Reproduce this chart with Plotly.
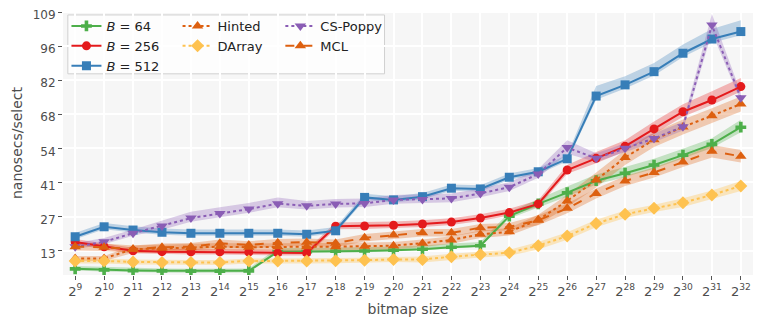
import plotly.graph_objects as go

# bitmap sizes as powers of two
exponents = list(range(9, 33))
x_labels = ["2<sup>%d</sup>" % e for e in exponents]

# y ticks (axis labels are rounded values)
y_ticks = [13.4, 27.1, 40.8, 54.5, 68.2, 81.9, 95.5, 109.2]
y_tick_text = ["13", "27", "41", "54", "68", "82", "96", "109"]

# nanosecs/select
b64 = [6.1, 5.7, 5.4, 5.3, 5.2, 5.2, 5.3, 13.0, 13.0, 13.2, 13.3, 13.6,
       14.0, 14.8, 15.4, 27.3, 32.2, 36.7, 41.5, 44.5, 47.8, 51.8, 56.1, 63.0]
b256 = [16.9, 15.0, 13.4, 13.0, 12.9, 12.9, 12.8, 12.5, 12.5, 23.2, 23.3, 23.6,
        24.1, 24.9, 26.5, 28.7, 32.2, 45.8, 50.5, 55.3, 62.3, 69.2, 73.9, 79.3]
b512 = [19.0, 23.0, 21.7, 20.8, 20.4, 20.4, 20.4, 20.4, 20.0, 21.4, 34.8, 33.8,
        35.1, 38.5, 38.2, 42.9, 45.1, 50.3, 75.5, 80.0, 85.3, 92.7, 98.4, 101.4]
hinted = [10.3, 10.3, 14.0, 14.4, 14.6, 15.0, 14.8, 15.0, 15.0, 15.0, 15.2, 15.4,
          16.4, 17.7, 20.0, 21.0, 25.8, 33.4, 41.8, 50.8, 58.0, 63.1, 67.6, 72.3]
darray = [9.3, 9.3, 8.9, 8.7, 8.7, 8.7, 9.3, 9.3, 9.3, 9.4, 9.6, 9.9,
          9.9, 11.0, 11.9, 12.6, 15.4, 19.3, 24.3, 28.0, 30.4, 32.7, 35.8, 39.4]
cs_poppy = [15.0, 17.0, 20.4, 23.3, 26.5, 28.3, 30.1, 32.3, 31.4, 32.2, 32.4, 33.8,
            34.0, 34.4, 36.4, 38.9, 44.2, 54.8, 50.5, 54.5, 58.5, 63.2, 104.0, 74.8]
mcl = [15.0, 14.8, 14.0, 14.8, 15.0, 16.4, 15.7, 16.6, 16.8, 16.4, 18.6, 19.7,
       20.6, 20.6, 22.6, 23.0, 25.6, 30.4, 36.4, 41.4, 44.8, 49.0, 53.3, 51.3]

# spread above / below each point (shaded band)
b64_up = [1.2, 1.2, 1.0, 1.0, 1.0, 1.0, 1.0, 1.5, 1.5, 1.5, 1.5, 1.5,
          1.5, 1.5, 1.5, 1.5, 2.0, 2.5, 2.5, 2.5, 2.5, 2.5, 2.5, 3.0]
b64_dn = [0.7, 0.7, 0.7, 0.7, 0.7, 0.7, 0.7, 0.5, 0.5, 0.5, 0.5, 0.5,
          0.5, 0.5, 0.5, 1.0, 1.5, 1.5, 1.5, 1.5, 1.5, 1.5, 1.5, 2.0]
b256_up = [1.2, 1.2, 1.2, 1.2, 1.2, 1.2, 1.2, 1.2, 1.2, 1.5, 1.5, 1.5,
           1.5, 1.5, 1.5, 1.5, 1.5, 2.0, 2.5, 2.5, 3.0, 3.0, 3.5, 3.5]
b256_dn = [1.0, 1.0, 1.0, 1.0, 1.0, 1.0, 1.0, 1.0, 1.0, 1.2, 1.2, 1.2,
           1.2, 1.2, 1.2, 1.2, 1.2, 1.5, 2.0, 2.0, 2.0, 2.0, 2.0, 2.0]
b512_up = [1.5, 1.5, 1.5, 1.5, 1.5, 1.5, 1.5, 1.5, 1.5, 1.5, 1.5, 1.5,
           1.5, 1.5, 1.5, 1.5, 1.5, 1.5, 4.0, 3.5, 3.5, 3.5, 4.0, 4.5]
b512_dn = [1.0, 1.0, 1.0, 1.0, 1.0, 1.0, 1.0, 1.0, 1.0, 1.0, 1.0, 1.0,
           1.0, 1.0, 1.0, 1.0, 1.0, 1.0, 1.5, 1.5, 1.5, 1.5, 1.5, 1.5]
hinted_up = [1.0, 1.0, 1.5, 1.5, 1.5, 1.5, 1.5, 1.5, 1.5, 1.5, 1.5, 1.5,
             1.5, 1.5, 1.5, 1.5, 2.0, 2.5, 3.0, 3.0, 3.0, 3.0, 3.0, 3.0]
hinted_dn = hinted_up
darray_up = [1.0, 1.0, 1.0, 1.0, 1.0, 1.0, 1.0, 1.0, 1.0, 1.0, 1.0, 1.0,
             1.2, 1.2, 1.2, 1.2, 1.5, 1.5, 1.5, 1.5, 1.5, 1.8, 1.8, 2.0]
darray_dn = darray_up
cs_poppy_up = [1.5, 1.5, 1.5, 2.0, 2.5, 2.5, 2.5, 2.5, 2.0, 2.0, 2.0, 2.0,
               2.0, 2.0, 2.0, 2.0, 2.0, 3.0, 2.0, 2.0, 2.0, 2.0, 4.5, 2.0]
cs_poppy_dn = [1.0, 1.0, 1.0, 1.5, 1.5, 1.5, 1.5, 1.5, 1.5, 1.5, 1.5, 1.5,
               1.5, 1.5, 1.5, 1.5, 1.5, 2.5, 1.5, 1.5, 1.5, 1.5, 3.0, 1.5]
mcl_up = [1.5, 1.5, 1.5, 1.5, 1.5, 1.5, 1.5, 1.5, 1.5, 1.5, 1.5, 1.5,
          1.5, 1.5, 1.5, 1.5, 2.0, 2.0, 2.0, 2.0, 2.0, 2.0, 2.5, 2.5]
mcl_dn = mcl_up

# name, values, up, down, colour, band rgba, dash, symbol, size, legend column
series = [
    ("<i>B</i> = 64", b64, b64_up, b64_dn, "#4daf4a", "rgba(77,175,74,0.3)", "solid", "cross", 9, "legend"),
    ("<i>B</i> = 256", b256, b256_up, b256_dn, "#e41a1c", "rgba(228,26,28,0.3)", "solid", "circle", 9, "legend"),
    ("<i>B</i> = 512", b512, b512_up, b512_dn, "#377eb8", "rgba(55,126,184,0.3)", "solid", "square", 9, "legend"),
    ("Hinted", hinted, hinted_up, hinted_dn, "#dd6010", "rgba(221,96,16,0.3)", "dot", "triangle-up", 10, "legend2"),
    ("DArray", darray, darray_up, darray_dn, "#fec250", "rgba(254,194,80,0.35)", "dot", "diamond", 10, "legend2"),
    ("CS-Poppy", cs_poppy, cs_poppy_up, cs_poppy_dn, "#8a5db5", "rgba(138,93,181,0.3)", "dot", "triangle-down", 10, "legend3"),
    ("MCL", mcl, mcl_up, mcl_dn, "#dd6010", "rgba(221,96,16,0.3)", "dash", "triangle-up", 10, "legend3"),
]

fig = go.Figure()

for name, vals, up, dn, col, band, dash, sym, size, leg in series:
    hi = [v + u for v, u in zip(vals, up)]
    lo = [v - d for v, d in zip(vals, dn)]
    fig.add_trace(go.Scatter(
        x=exponents + exponents[::-1], y=hi + lo[::-1],
        fill="toself", fillcolor=band, line=dict(width=0),
        mode="lines", showlegend=False, hoverinfo="skip"))

for name, vals, up, dn, col, band, dash, sym, size, leg in series:
    fig.add_trace(go.Scatter(
        x=exponents, y=vals, name=name, mode="lines+markers",
        line=dict(color=col, width=2, dash=dash),
        marker=dict(color=col, symbol=sym, size=size),
        legend=leg))

# legend frame shared by the three columns
fig.add_shape(type="rect", xref="paper", yref="paper",
              x0=0.007, x1=0.466, y0=0.762, y1=0.985,
              fillcolor="rgba(255,255,255,0.8)",
              line=dict(color="#d0d0d0", width=1), layer="between")

leg_style = dict(yanchor="top", xanchor="left", y=1.0,
                 bgcolor="rgba(0,0,0,0)", borderwidth=0,
                 font=dict(size=13, color="#222222"), tracegroupgap=0)

# page body adds an 8px offset, so the figure is 8px smaller each way
fig.update_layout(
    width=756, height=320,
    margin=dict(l=55, r=11, t=3, b=53),
    paper_bgcolor="white",
    plot_bgcolor="#f6f6f6",
    font=dict(family="DejaVu Sans", size=13, color="#4d4d4d"),
    legend=dict(x=0.005, **leg_style),
    legend2=dict(x=0.166, **leg_style),
    legend3=dict(x=0.315, **leg_style),
    xaxis=dict(
        title=dict(text="bitmap size", font=dict(size=14), standoff=6),
        range=[8.58, 32.42], tickvals=exponents, ticktext=x_labels,
        showgrid=True, gridcolor="white", gridwidth=1.5, zeroline=False,
        ticks="outside", ticklen=4, tickcolor="#555555",
        tickfont=dict(size=13), automargin=False, ticklabeloverflow="allow"),
    yaxis=dict(
        title=dict(text="nanosecs/select", font=dict(size=14), standoff=6),
        range=[3.64, 109.66], tickvals=y_ticks, ticktext=y_tick_text,
        showgrid=True, gridcolor="white", gridwidth=1.5, zeroline=False,
        ticks="outside", ticklen=4, tickcolor="#555555",
        tickfont=dict(size=12), automargin=False, ticklabeloverflow="allow",
        ticklabelshift=3),
)

fig.write_html("out.html")
